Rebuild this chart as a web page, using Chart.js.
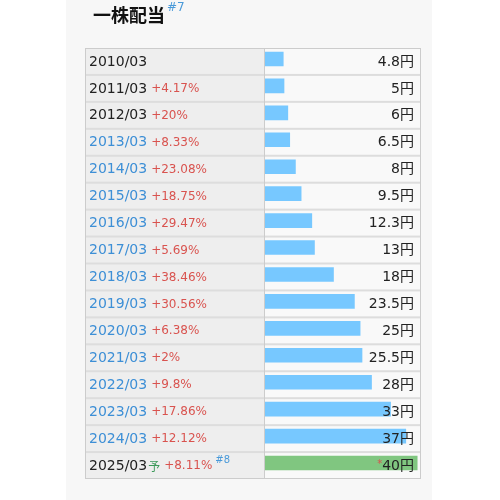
<!DOCTYPE html>
<html>
<head>
<meta charset="utf-8">
<script src="https://cdn.jsdelivr.net/npm/chart.js@4.4.1/dist/chart.umd.min.js"></script>
<style>
  html, body { margin: 0; background: #fff; }
  canvas { display: block; }
</style>
</head>
<body>
<canvas id="divChart" width="500" height="500"></canvas>
<script>
// 一株配当 data
const periods = ['2010/03', '2011/03', '2012/03', '2013/03', '2014/03', '2015/03', '2016/03', '2017/03',
                 '2018/03', '2019/03', '2020/03', '2021/03', '2022/03', '2023/03', '2024/03', '2025/03'];
const growth = ['', '+4.17%', '+20%', '+8.33%', '+23.08%', '+18.75%', '+29.47%', '+5.69%',
                '+38.46%', '+30.56%', '+6.38%', '+2%', '+9.8%', '+17.86%', '+12.12%', '+8.11%'];
const dividends = [4.8, 5, 6, 6.5, 8, 9.5, 12.3, 13, 18, 23.5, 25, 25.5, 28, 33, 37, 40];
const valueLabels = ['4.8円', '5円', '6円', '6.5円', '8円', '9.5円', '12.3円', '13円',
                     '18円', '23.5円', '25円', '25.5円', '28円', '33円', '37円', '40円'];
const linked = [false, false, false, true, true, true, true, true,
                true, true, true, true, true, true, true, false];
const forecast = [false, false, false, false, false, false, false, false,
                  false, false, false, false, false, false, false, true];

// table geometry
const TBL_L = 85, TBL_R = 421, TBL_T = 48, TBL_B = 479, COL_X = 264;
const ROW_H = (TBL_B - TBL_T) / periods.length;
const BASE_FONT = '"DejaVu Sans", "Noto Sans CJK JP", sans-serif';

const tablePlugin = {
  id: 'tablePlugin',
  beforeDraw(chart) {
    const c = chart.ctx;
    c.save();
    c.fillStyle = '#ffffff';
    c.fillRect(0, 0, 500, 500);
    // panel
    c.fillStyle = '#f7f7f7';
    c.fillRect(66, 0, 366, 500);

    // title
    c.fillStyle = '#111';
    c.font = 'bold 18px "Noto Sans CJK JP", sans-serif';
    c.textBaseline = 'middle';
    c.textAlign = 'left';
    c.fillText('一株配当', 93, 15);
    const tw = c.measureText('一株配当').width;
    c.fillStyle = '#4a9ad9';
    c.font = '12px ' + BASE_FONT;
    c.fillText('#7', 93 + tw + 2, 8);

    // cells
    for (let i = 0; i < periods.length; i++) {
      const y = TBL_T + i * ROW_H;
      c.fillStyle = '#eeeeee';
      c.fillRect(TBL_L, y, COL_X - TBL_L, ROW_H);
      c.fillStyle = '#f9f9f9';
      c.fillRect(COL_X, y, TBL_R - COL_X, ROW_H);
      if (i > 0) {
        c.fillStyle = '#dddddd';
        c.fillRect(TBL_L, y - 1, TBL_R - TBL_L, 2);
      }
    }
    c.strokeStyle = '#cccccc';
    c.lineWidth = 1;
    c.beginPath();
    c.moveTo(COL_X + 0.5, TBL_T);
    c.lineTo(COL_X + 0.5, TBL_B);
    c.stroke();
    c.strokeRect(TBL_L + 0.5, TBL_T + 0.5, TBL_R - TBL_L - 1, TBL_B - TBL_T - 1);

    // left labels
    for (let i = 0; i < periods.length; i++) {
      const yMid = TBL_T + i * ROW_H + ROW_H / 2 + 0.5;
      let x = 89;
      c.textAlign = 'left';
      c.textBaseline = 'middle';
      c.font = '14px ' + BASE_FONT;
      c.fillStyle = linked[i] ? '#3d8fd6' : '#222222';
      c.fillText(periods[i], x, yMid);
      x += c.measureText(periods[i]).width;
      if (forecast[i]) {
        c.font = '12px "Noto Sans CJK JP", sans-serif';
        c.fillStyle = '#3d9a5a';
        c.fillText('予', x + 1, yMid);
        x += c.measureText('予').width + 1;
      }
      if (growth[i]) {
        c.font = '12px ' + BASE_FONT;
        c.fillStyle = '#d9534f';
        c.fillText(growth[i], x + 4, yMid);
        x += 4 + c.measureText(growth[i]).width;
      }
      if (forecast[i]) {
        c.font = '10px ' + BASE_FONT;
        c.fillStyle = '#4a9ad9';
        c.fillText('#8', x + 3, yMid - 6);
      }
    }
    c.restore();
  },
  afterDatasetsDraw(chart) {
    const c = chart.ctx;
    c.save();
    c.textAlign = 'right';
    c.textBaseline = 'middle';
    for (let i = 0; i < valueLabels.length; i++) {
      const yMid = TBL_T + i * ROW_H + ROW_H / 2 + 0.5;
      c.font = '14px ' + BASE_FONT;
      c.fillStyle = '#222222';
      c.fillText(valueLabels[i], 414, yMid);
      if (forecast[i]) {
        const w = c.measureText(valueLabels[i]).width;
        c.font = '10px ' + BASE_FONT;
        c.fillStyle = '#d9534f';
        c.fillText('*', 414 - w, yMid - 2);
      }
    }
    c.restore();
  }
};

new Chart(document.getElementById('divChart'), {
  type: 'bar',
  data: {
    labels: periods,
    datasets: [{
      data: dividends,
      backgroundColor: forecast.map(f => f ? '#80c680' : '#77c8ff'),
      borderWidth: 0,
      barThickness: 14
    }]
  },
  options: {
    indexAxis: 'y',
    responsive: false,
    animation: false,
    devicePixelRatio: 1,
    layout: { padding: { left: 265, right: 79, top: 45.5, bottom: 23.5 } },
    scales: {
      x: { display: false, min: 0, max: 41 },
      y: { display: false }
    },
    plugins: {
      legend: { display: false },
      tooltip: { enabled: false }
    }
  },
  plugins: [tablePlugin]
});
</script>
</body>
</html>
